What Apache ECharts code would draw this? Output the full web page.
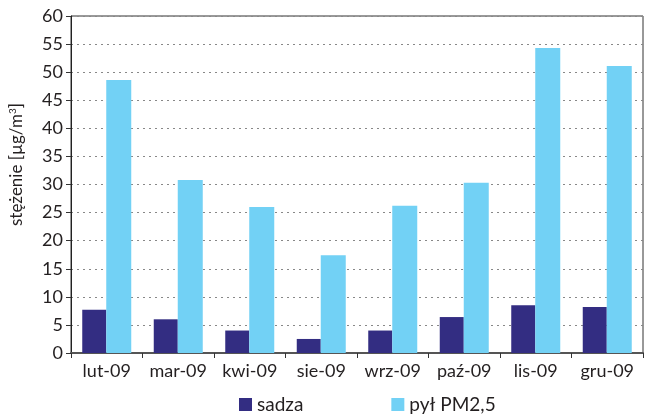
<!DOCTYPE html>
<html><head><meta charset="utf-8">
<script src="https://cdn.jsdelivr.net/npm/echarts@6/dist/echarts.min.js"></script>
<style>html,body{margin:0;padding:0;background:#fff}#c{width:646px;height:417px}</style>
</head><body><div id="c"></div>
<script>
const categories = ['lut-09','mar-09','kwi-09','sie-09','wrz-09','paź-09','lis-09','gru-09'];
const sadza = [7.7, 6.0, 4.0, 2.5, 4.0, 6.4, 8.5, 8.2];
const pm25 = [48.6, 30.8, 26.0, 17.4, 26.2, 30.3, 54.3, 51.1];
const seriesNames = ['sadza', 'pył PM2,5'];
const font = 'Lato, "Open Sans", "DejaVu Sans", sans-serif';
const chart = echarts.init(document.getElementById('c'));
chart.setOption({
  animation: false,
  grid: {left: 67, right: 3, top: 16, bottom: 64, show: true, borderColor: '#333', borderWidth: 1},
  legend: {
    bottom: 3, left: 239, padding: 0, itemWidth: 13, itemHeight: 13, itemGap: 88, icon: 'rect',
    textStyle: {fontFamily: font, fontSize: 19, color: '#231f20'},
    data: seriesNames
  },
  xAxis: {
    type: 'category', data: categories,
    axisLine: {lineStyle: {color: '#555', width: 2}},
    axisTick: {show: true, length: 5, lineStyle: {color: '#333'}},
    axisLabel: {interval: 0, fontFamily: font, fontSize: 18, color: '#231f20', margin: 9}
  },
  yAxis: {
    type: 'value', min: 0, max: 60, interval: 5,
    name: 'stężenie [µg/m{s|3}]', nameLocation: 'middle', nameGap: 45,
    nameTextStyle: {fontFamily: font, fontSize: 17, color: '#231f20', padding: [0, 0, 0, 40],
      rich: {s: {fontFamily: font, fontSize: 10, verticalAlign: 'top', padding: [0,0,8,0], color: '#231f20'}}},
    axisLine: {show: true, lineStyle: {color: '#222', width: 1}},
    axisTick: {show: true, length: 5, lineStyle: {color: '#333'}},
    axisLabel: {fontFamily: font, fontSize: 18, color: '#231f20', margin: 8},
    splitLine: {lineStyle: {color: '#888', type: [2, 4], width: 1}}
  },
  series: [
    {name: seriesNames[0], type: 'bar', data: sadza, barWidth: 24, barGap: '0%', itemStyle: {color: '#332d82'}},
    {name: seriesNames[1], type: 'bar', data: pm25, barWidth: 25, itemStyle: {color: '#72d1f5'}}
  ]
});
</script></body></html>
